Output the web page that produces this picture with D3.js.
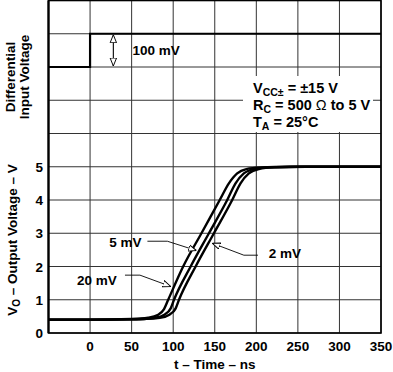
<!DOCTYPE html>
<html>
<head>
<meta charset="utf-8">
<script src="https://cdn.jsdelivr.net/npm/d3@7"></script>
<style>
  html, body { margin: 0; padding: 0; background: #fff; }
  svg text { font-family: "Liberation Sans", Arial, Helvetica, sans-serif; font-weight: bold; fill: #000; }
</style>
</head>
<body>
<svg id="chart" width="393" height="372"></svg>
<script>
// time grid (ns) and voltage ticks
const timeTicks = [-50, 0, 50, 100, 150, 200, 250, 300, 350];
const timeLabels = [0, 50, 100, 150, 200, 250, 300, 350];
const voltTicks = [0, 1, 2, 3, 4, 5, 6];
const voltLabels = [0, 1, 2, 3, 4, 5];
const inputTicks = [-200, -100, 0, 100, 200];

// differential input step (mV)
const stepTime = [-50, 0, 0, 350];
const stepMv = [0, 0, 100, 100];

// output responses
const t20 = [-50, 0, 50, 70, 82, 89, 94, 112, 134, 156, 167, 177, 188, 205, 240, 350];
const v20 = [0.40, 0.40, 0.42, 0.46, 0.55, 0.72, 1.0, 2.0, 3.0, 4.0, 4.5, 4.8, 4.93, 4.98, 5.0, 5.0];
const t5 = [-50, 0, 50, 78, 90, 97, 101, 121, 143, 165, 175, 185, 197, 215, 250, 350];
const v5 = [0.40, 0.40, 0.41, 0.46, 0.56, 0.74, 1.0, 2.0, 3.0, 4.0, 4.5, 4.8, 4.93, 4.98, 5.0, 5.0];
const t2 = [-50, 0, 50, 84, 96, 103, 107, 127, 149, 171, 181, 191, 203, 222, 260, 350];
const v2 = [0.40, 0.40, 0.41, 0.46, 0.56, 0.74, 1.0, 2.0, 3.0, 4.0, 4.5, 4.8, 4.93, 4.98, 5.0, 5.0];

const curveNames = ["20 mV", "5 mV", "2 mV"];

const svg = d3.select("#chart");
const plotL = 48.5, plotR = 381, plotT = 0.5, plotB = 333;
const rowH = (plotB - plotT) / 10;

const x = d3.scaleLinear().domain([-50, 350]).range([plotL, plotR]);
const yOut = d3.scaleLinear().domain([0, 6]).range([plotB, plotB - 6 * rowH]);
const yIn = d3.scaleLinear().domain([-200, 200]).range([plotB - 6 * rowH, plotT]);

// grid
const grid = svg.append("g").attr("stroke", "#333").attr("stroke-width", 1);
grid.selectAll(".vx").data(timeTicks).join("line")
  .attr("x1", d => x(d)).attr("x2", d => x(d))
  .attr("y1", plotT).attr("y2", plotB);
grid.selectAll(".hy").data(voltTicks).join("line")
  .attr("x1", plotL).attr("x2", plotR)
  .attr("y1", d => yOut(d)).attr("y2", d => yOut(d));
grid.selectAll(".hi").data(inputTicks).join("line")
  .attr("x1", plotL).attr("x2", plotR)
  .attr("y1", d => yIn(d)).attr("y2", d => yIn(d));

// white box behind conditions text
svg.append("rect")
  .attr("x", 243).attr("y", 76).attr("width", 130).attr("height", 56)
  .attr("fill", "#fff");

// frame
svg.append("rect")
  .attr("x", plotL).attr("y", plotT).attr("width", plotR - plotL).attr("height", plotB - plotT)
  .attr("fill", "none").attr("stroke", "#000").attr("stroke-width", 1.6);
svg.append("line")
  .attr("x1", plotL).attr("x2", plotL).attr("y1", plotT).attr("y2", plotB)
  .attr("stroke", "#000").attr("stroke-width", 2.2);

// markers
const defs = svg.append("defs");
defs.append("marker")
  .attr("id", "tri")
  .attr("viewBox", "0 0 10 10")
  .attr("refX", 10).attr("refY", 5)
  .attr("markerWidth", 8).attr("markerHeight", 8)
  .attr("markerUnits", "userSpaceOnUse")
  .attr("orient", "auto-start-reverse")
  .append("path")
  .attr("d", "M0,1 L10,5 L0,9 Z")
  .attr("fill", "#fff").attr("stroke", "#000").attr("stroke-width", 1.2);

// input step
const stepLine = d3.line().x(d => x(d[0])).y(d => yIn(d[1]));
svg.append("path")
  .attr("d", stepLine(stepTime.map((t, i) => [t, stepMv[i]])))
  .attr("fill", "none").attr("stroke", "#000").attr("stroke-width", 2.2);

// 100 mV double arrow
svg.append("line")
  .attr("x1", x(28)).attr("x2", x(28))
  .attr("y1", yIn(100) + 1).attr("y2", yIn(0) - 1)
  .attr("stroke", "#000").attr("stroke-width", 1.1)
  .attr("marker-start", "url(#tri)").attr("marker-end", "url(#tri)");
svg.append("text")
  .attr("x", x(51)).attr("y", yIn(50) + 5)
  .attr("font-size", 13.5)
  .text("100 mV");

// output curves
const outLine = d3.line().x(d => x(d[0])).y(d => yOut(d[1])).curve(d3.curveMonotoneX);
[[t20, v20], [t5, v5], [t2, v2]].forEach(([ts, vs]) => {
  svg.append("path")
    .attr("d", outLine(ts.map((t, i) => [t, vs[i]])))
    .attr("fill", "none").attr("stroke", "#000").attr("stroke-width", 2.4)
    .attr("stroke-linejoin", "round");
});

// curve annotations: text anchor point, leader polyline (t, V)
const notes = [
  { name: curveNames[0], tx: 32, ty: 1.44, anchor: "end", path: [[42, 1.74], [60, 1.74], [97, 1.40]] },
  { name: curveNames[1], tx: 62, ty: 2.58, anchor: "end", path: [[69, 2.76], [93, 2.76], [128, 2.48]] },
  { name: curveNames[2], tx: 215, ty: 2.25, anchor: "start", path: [[202, 2.34], [185, 2.34], [147, 2.7]] }
];
const leader = d3.line().x(d => x(d[0])).y(d => yOut(d[1]));
notes.forEach(n => {
  svg.append("path")
    .attr("d", leader(n.path))
    .attr("fill", "none").attr("stroke", "#000").attr("stroke-width", 0.9)
    .attr("marker-end", "url(#tri)");
  svg.append("text")
    .attr("x", x(n.tx)).attr("y", yOut(n.ty))
    .attr("text-anchor", n.anchor)
    .attr("font-size", 13.5)
    .text(n.name);
});

// conditions
const cond = svg.append("g").attr("font-size", 14.5);
const c1 = cond.append("text").attr("x", 253).attr("y", 93);
c1.append("tspan").text("V");
c1.append("tspan").attr("font-size", 10.5).attr("dy", 3).text("CC\u00b1");
c1.append("tspan").attr("dy", -3).text(" = \u00b115 V");
const c2 = cond.append("text").attr("x", 253).attr("y", 110);
c2.append("tspan").text("R");
c2.append("tspan").attr("font-size", 10.5).attr("dy", 3).text("C");
c2.append("tspan").attr("dy", -3).text(" = 500 ");
c2.append("tspan").attr("font-weight", "normal").text("\u03a9");
c2.append("tspan").text(" to 5 V");
const c3 = cond.append("text").attr("x", 253).attr("y", 127);
c3.append("tspan").text("T");
c3.append("tspan").attr("font-size", 10.5).attr("dy", 3).text("A");
c3.append("tspan").attr("dy", -3).text(" = 25\u00b0C");

// tick labels
svg.selectAll(".xl").data(timeLabels).join("text")
  .attr("x", d => x(d)).attr("y", 351)
  .attr("text-anchor", "middle").attr("font-size", 13.5)
  .text(d => d);
svg.selectAll(".yl").data(voltLabels).join("text")
  .attr("x", 43).attr("y", d => yOut(d) + 5)
  .attr("text-anchor", "end").attr("font-size", 13.5)
  .text(d => d);

// axis titles
svg.append("text")
  .attr("x", (plotL + plotR) / 2).attr("y", 369)
  .attr("text-anchor", "middle").attr("font-size", 13.5)
  .text("t \u2013 Time \u2013 ns");

const yt = svg.append("text")
  .attr("transform", "translate(17,240) rotate(-90)")
  .attr("text-anchor", "middle").attr("font-size", 13.5);
yt.append("tspan").text("V");
yt.append("tspan").attr("font-size", 10).attr("dy", 3).text("O");
yt.append("tspan").attr("dy", -3).text(" \u2013 Output Voltage \u2013 V");

svg.append("text")
  .attr("transform", "translate(15,77) rotate(-90)")
  .attr("text-anchor", "middle").attr("font-size", 13.5)
  .text("Differential");
svg.append("text")
  .attr("transform", "translate(29,77) rotate(-90)")
  .attr("text-anchor", "middle").attr("font-size", 13.5)
  .text("Input Voltage");
</script>
</body>
</html>
